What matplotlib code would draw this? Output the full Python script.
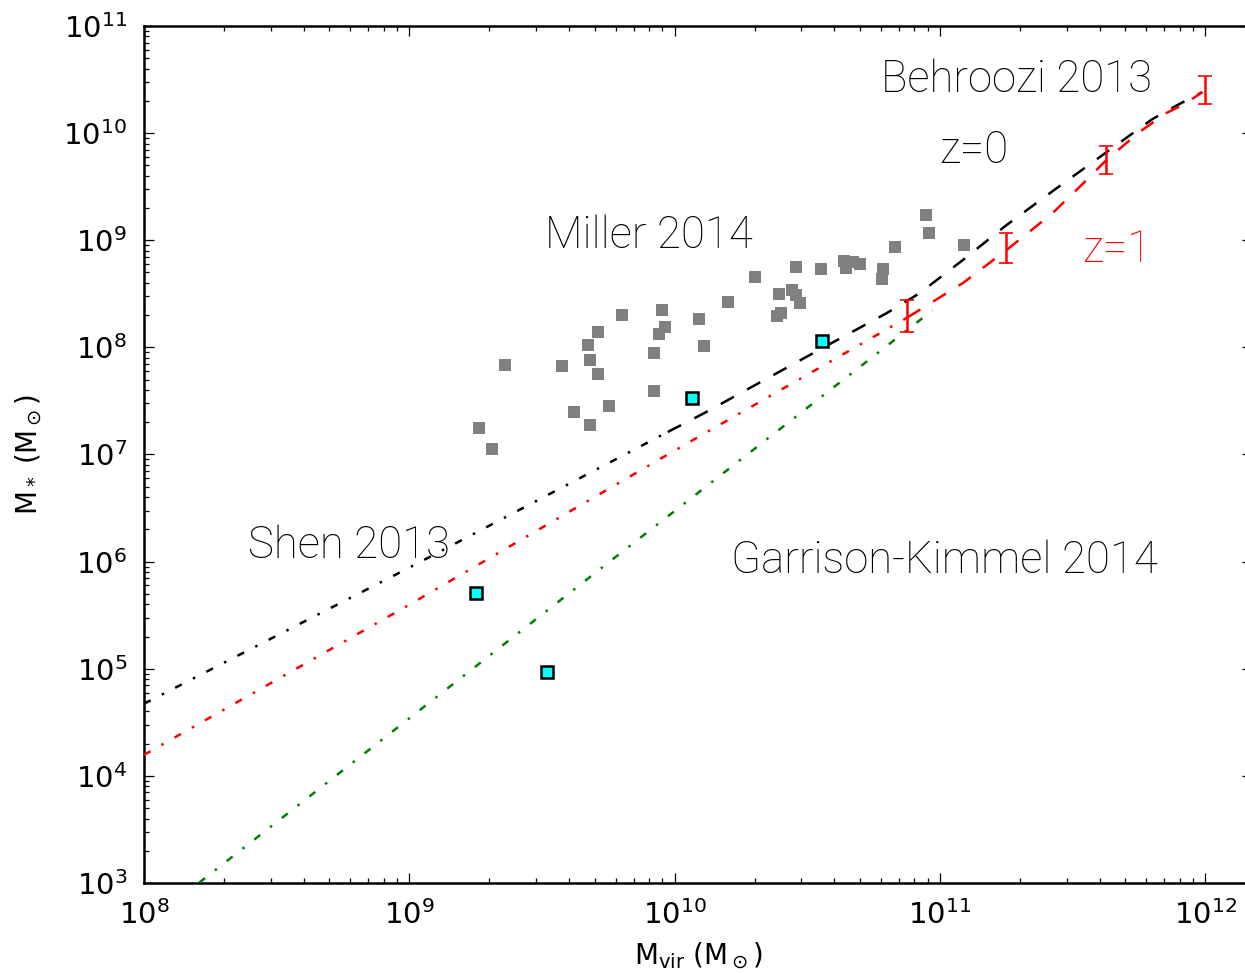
import numpy as np
import matplotlib
matplotlib.use("Agg")
import matplotlib.pyplot as plt
from matplotlib.ticker import NullFormatter, FixedLocator, LogFormatterSciNotation

plt.rcParams['lines.scale_dashes'] = False
plt.rcParams['mathtext.fontset'] = 'dejavusans'

# ---------------- data (log10 values) ----------------
# Miller 2014 gray squares: log10 Mvir, log10 M*
miller_logm = [9.262, 9.311, 9.360, 9.574, 9.620, 9.680, 9.751, 9.710, 9.672, 9.680,
               9.710, 9.800, 9.951, 9.962, 9.940, 9.921, 9.921, 10.090, 10.109, 10.200,
               10.301, 10.384, 10.399, 10.392, 10.441, 10.456, 10.471, 10.459, 10.550,
               10.640, 10.644, 10.674, 10.700, 10.787, 10.780, 10.829, 10.949, 10.960, 11.089]
miller_logms = [7.243, 7.047, 7.832, 7.822, 7.393, 7.280, 7.449, 8.140, 8.019, 7.879,
                7.748, 8.299, 8.346, 8.187, 8.121, 7.944, 7.589, 8.262, 8.009, 8.421,
                8.654, 8.290, 8.318, 8.495, 8.533, 8.486, 8.411, 8.748, 8.729,
                8.804, 8.738, 8.794, 8.776, 8.729, 8.636, 8.935, 9.234, 9.065, 8.953]

# Shen 2013 cyan squares
shen_logm = [9.250, 9.518, 10.064, 10.554]
shen_logms = [5.710, 4.972, 7.523, 8.056]

# Behroozi 2013, z=0 (black): extrapolated (dash-dot) and fitted (dashed) parts
b0_ext_logm = [8.0, 9.0, 9.974]
b0_ext_logms = [4.673, 5.944, 7.21]
b0_logm = [9.974, 10.109, 10.301, 10.495, 10.584, 10.798, 10.923, 11.085, 11.25,
           11.431, 11.612, 11.800, 11.895, 11.989]
b0_logms = [7.21, 7.383, 7.645, 7.909, 8.03, 8.318, 8.505, 8.813, 9.14,
            9.47, 9.794, 10.13, 10.262, 10.383]

# Behroozi 2013, z=1 (red)
b1_ext_logm = [8.0, 9.0, 10.0, 10.878]
b1_ext_logms = [4.196, 5.598, 7.037, 8.28]
b1_logm = [10.878, 11.085, 11.250, 11.424, 11.525, 11.627, 11.751, 11.853,
           11.928, 11.989]
b1_logms = [8.28, 8.598, 8.907, 9.252, 9.495, 9.748, 10.009, 10.187,
            10.280, 10.383]

# Behroozi z=1 error bars
err_logm = [10.875, 11.25, 11.625, 12.0]
err_lo = [8.140, 8.785, 9.617, 10.271]
err_hi = [8.439, 9.065, 9.879, 10.533]

# Garrison-Kimmel 2014 (green)
gk_logm = [8.0, 9.774, 10.972]
gk_logms = [2.60, 6.037, 8.346]

# tick decades
x_tick_exp = [8, 9, 10, 11, 12]
y_tick_exp = [3, 4, 5, 6, 7, 8, 9, 10, 11]

# text labels: (text, log10 x, log10 y, colour)
labels = [("Behroozi 2013", 10.778, 10.386, 'black'),
          ("z=0", 10.998, 9.720, 'black'),
          ("z=1", 11.537, 8.794, 'red'),
          ("Miller 2014", 9.510, 8.925, 'black'),
          ("Shen 2013", 8.392, 6.037, 'black'),
          ("Garrison-Kimmel 2014", 10.211, 5.897, 'black')]

p = lambda a: 10.0 ** np.asarray(a, dtype=float)

# ---------------- figure ----------------
fig = plt.figure(figsize=(12.45, 9.73), dpi=100)
ax = fig.add_axes([144 / 1245, (973 - 883) / 973, (1252 - 144) / 1245, (883 - 26) / 973])
ax.set_xscale('log')
ax.set_yscale('log')
ax.set_xlim(1e8, 1.5e12)
ax.set_ylim(1e3, 1e11)
ax.xaxis.set_major_locator(FixedLocator(p(x_tick_exp)))
ax.yaxis.set_major_locator(FixedLocator(p(y_tick_exp)))
ax.xaxis.set_major_formatter(LogFormatterSciNotation())
ax.yaxis.set_major_formatter(LogFormatterSciNotation())
ax.xaxis.set_minor_formatter(NullFormatter())
ax.yaxis.set_minor_formatter(NullFormatter())

LW = 1.8
DD = (5.4, 9.0, 1.8, 9.0)
DS = (10.8, 10.8)

ax.plot(p(miller_logm), p(miller_logms), 's', color='gray', ms=8.6, mew=0, zorder=2)

ax.plot(p(gk_logm), p(gk_logms), color='green', lw=LW, dashes=DD, zorder=3)
ax.plot(p(b1_ext_logm), p(b1_ext_logms), color='red', lw=LW, dashes=DD, zorder=3)
ax.plot(p(b0_ext_logm), p(b0_ext_logms), color='black', lw=LW, dashes=DD, zorder=3)
ax.plot(p(b0_logm), p(b0_logms), color='black', lw=LW, dashes=DS, zorder=3)
ax.plot(p(b1_logm), p(b1_logms), color='red', lw=LW, dashes=DS, zorder=3)

emid = [(a + b) / 2 for a, b in zip(err_lo, err_hi)]
ax.errorbar(p(err_logm), p(emid),
            yerr=[p(emid) - p(err_lo), p(err_hi) - p(emid)],
            fmt='none', ecolor='red', elinewidth=1.8, capsize=5, capthick=1.2, zorder=4)

ax.plot(p(shen_logm), p(shen_logms), 's', mfc='cyan', mec='black', ms=8, mew=1.8, zorder=5)

for txt, lx, ly, c in labels:
    ax.text(10 ** lx, 10 ** ly, txt, color=c, fontsize=31.5, family='Roboto',
            fontweight='light', ha='left', va='baseline', zorder=6)

for s in ax.spines.values():
    s.set_linewidth(1.8)
ax.tick_params(which='both', direction='in', top=True, right=True, labelsize=21)
ax.tick_params(axis='y', which='both', pad=12)
ax.tick_params(axis='x', which='both', pad=12)
ax.tick_params(which='major', length=7.2, width=0.9)
ax.tick_params(which='minor', length=3.6, width=0.9)

ax.set_xlabel(r'M$_{\rm vir}$ (M$_\odot$)', fontsize=20, labelpad=8)
ax.set_ylabel(r'M$_*$ (M$_\odot$)', fontsize=20, labelpad=14)

fig.savefig('out.png', dpi=100)
